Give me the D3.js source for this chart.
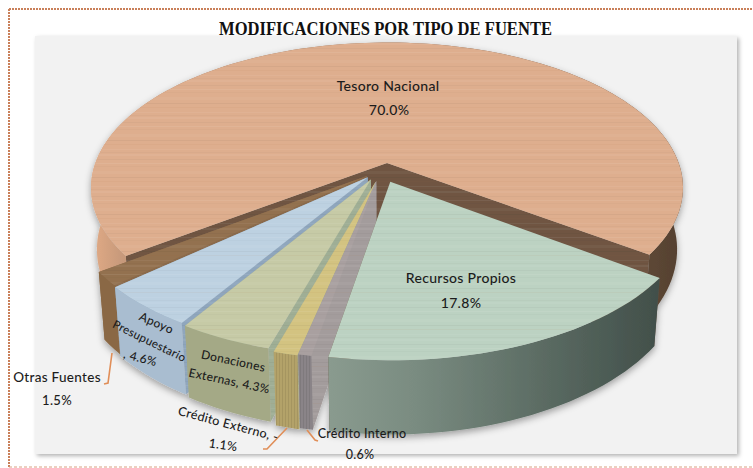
<!DOCTYPE html>
<html><head><meta charset="utf-8">
<script src="https://d3js.org/d3.v7.min.js"></script>
<style>html,body{margin:0;padding:0;background:#fff}svg{display:block}
.lab{font-family:Lato,sans-serif;font-weight:500;fill:#1c1c1c;text-anchor:middle;letter-spacing:.3px}</style>
</head><body><svg id="c" width="753" height="468"></svg>
<script>
// ---- data ----
const categories = ["Tesoro Nacional","Recursos Propios","Crédito Interno","Crédito Externo","Donaciones Externas","Apoyo Presupuestario","Otras Fuentes"];
const values = [70.0,17.8,0.6,1.1,4.3,4.6,1.5];
const chartTitle = "MODIFICACIONES POR TIPO DE FUENTE";
// ---- style ----
const topColors  = ["#deae8e","#bcd2c2","#a9a0a0","#d3c381","#c6caa6","#bdd1e1","#93714f"];
const sideColors = ["#a3765c","#7d8f83","#8a8488","#b3a269","#a4a986","#a9bdd0","#8a6844"];
const cutColors  = ["#6f5543","#6a5342","#a39c9c","#aab08e","#9fae95","#8fa6bd","#8a6a4b"];
// ground offset of each exploded slice, in disc radii
const explodeU = [0,.011,-.036,-.038,-.054,-.065,-.068];
const explodeV = [0,.130,.125,.130,.114,.100,.090];

const svg = d3.select("#c");
const defs = svg.append("defs");
const K = .17, H = 60, BOTTOM_SHRINK = .98;
const px = d3.scaleLinear().domain([0,1]).range([387,387+291.7]);
const py = d3.scaleLinear().domain([0,1]).range([163,163+141]);
const proj = (u,v,low)=>{
  const s = 1/(1-K*v);
  const x = px(u*s), y = py(v*s);
  return low ? [387+(x-387)*BOTTOM_SHRINK, y+H*s] : [x,y];
};
const deg = d=>d*Math.PI/180;
const pie = d3.pie().sort(null).startAngle(deg(233.64)).endAngle(deg(233.64+360));
const arcs = pie(values);
const line = d3.line();

// defs: stripes, shadows, gradients
const stripes = defs.append("pattern").attr("id","st").attr("patternUnits","userSpaceOnUse").attr("width",10).attr("height",37);
[[1,1,"#fff",.05],[4,1,"#000",.025],[6,2,"#fff",.05],[11,1,"#000",.03],[15,1,"#fff",.07],[18,1,"#000",.02],[23,3,"#fff",.04],[29,1,"#000",.04],[33,1,"#a06030",.06]]
 .forEach(r=>stripes.append("rect").attr("x",0).attr("width",10).attr("y",r[0]).attr("height",r[1]).attr("fill",r[2]).attr("opacity",r[3]));
const vst = defs.append("pattern").attr("id","vs").attr("patternUnits","userSpaceOnUse").attr("width",3).attr("height",10);
vst.append("rect").attr("width",1).attr("height",10).attr("fill","#000").attr("opacity",.08);
const sh = defs.append("filter").attr("id","panelSh").attr("x","-5%").attr("y","-5%").attr("width","110%").attr("height","110%");
sh.append("feDropShadow").attr("dx",2).attr("dy",2).attr("stdDeviation",2).attr("flood-color","#000").attr("flood-opacity",.3);
const sh2 = defs.append("filter").attr("id","pieSh").attr("x","-5%").attr("y","-5%").attr("width","110%").attr("height","115%");
sh2.append("feDropShadow").attr("dx",0).attr("dy",3).attr("stdDeviation",3.5).attr("flood-color","#000").attr("flood-opacity",.35);
const grad=(id,x1,x2,stops)=>{const g=defs.append("linearGradient").attr("id",id).attr("gradientUnits","userSpaceOnUse").attr("x1",x1).attr("x2",x2).attr("y1",0).attr("y2",0);
 stops.forEach(s=>g.append("stop").attr("offset",s[0]).attr("stop-color",s[1]));};
grad("w0",91,683,[[0,"#e2ab86"],[.05,"#c89a7b"],[.2,"#9f7b63"],[.85,"#6b5341"],[1,"#54402f"]]);
grad("w1",327,672,[[0,"#8a9b8f"],[.25,"#7a8c81"],[.7,"#55655d"],[1,"#3f4c47"]]);

// frame
svg.append("line").attr("x1",9).attr("y1",9).attr("x2",753).attr("y2",9).attr("stroke","#c9805a").attr("stroke-width",2).attr("stroke-dasharray","2 1");
svg.append("line").attr("x1",9).attr("y1",9).attr("x2",9).attr("y2",467).attr("stroke","#c9805a").attr("stroke-width",2).attr("stroke-dasharray","2 1");
svg.append("line").attr("x1",9).attr("y1",467).attr("x2",753).attr("y2",467).attr("stroke","#d9a080").attr("stroke-width",1).attr("stroke-dasharray","3 2");
svg.append("rect").attr("x",35).attr("y",36).attr("width",702).attr("height",418).attr("fill","#f2f2f2").attr("filter","url(#panelSh)");

svg.append("text").attr("x",385.5).attr("y",35).attr("text-anchor","middle")
  .attr("font-family","'Liberation Serif',serif").attr("font-weight",700).attr("font-size",18.5).attr("fill","#111")
  .attr("textLength",333).attr("lengthAdjust","spacingAndGlyphs").text(chartTitle);

// slices, back to front
const order = [0,6,5,4,3,2,1];
const g = svg.append("g").attr("filter","url(#pieSh)");
order.forEach(i=>{
  const a = arcs[i], du = explodeU[i], dv = explodeV[i];
  const steps = d3.range(0,1.0001,1/Math.max(6,Math.ceil((a.endAngle-a.startAngle)*30)));
  const pts = steps.map(t=>{const th=a.startAngle+t*(a.endAngle-a.startAngle);return [Math.sin(th)+du,-Math.cos(th)+dv];});
  const centre=[du,dv];
  const topPts = pts.map(p=>proj(p[0],p[1]));
  const lowPts = pts.map(p=>proj(p[0],p[1],true));
  const wallFill = i===0?"url(#w0)":i===1?"url(#w1)":sideColors[i];
  const face=(p)=>[proj(centre[0],centre[1]),proj(p[0],p[1]),proj(p[0],p[1],true),proj(centre[0],centre[1],true)];
  const sg = g.append("g");
  // cut faces
  [pts[0],pts[pts.length-1]].forEach(p=>{
    sg.append("path").attr("d",line(face(p))+"Z").attr("fill",cutColors[i]);
    sg.append("path").attr("d",line(face(p))+"Z").attr("fill","url(#st)");
  });
  // outer wall
  const wall = line(topPts.concat(lowPts.slice().reverse()))+"Z";
  sg.append("path").attr("d",wall).attr("fill",wallFill);
  if(i===2||i===3) sg.append("path").attr("d",wall).attr("fill","url(#vs)");
  // top
  const top = line([proj(centre[0],centre[1])].concat(topPts))+"Z";
  sg.append("path").attr("d",top).attr("fill",topColors[i]);
  sg.append("path").attr("d",top).attr("fill","url(#st)");
});

// leaders
[[[112,353],[108,383],[104,384]],[[287,428],[267,449],[263,449]],[[307,430],[315,440],[318,441]]].forEach(l=>
  svg.append("path").attr("d",line(l)).attr("fill","none").attr("stroke","#e08e58").attr("stroke-width",1.6));

// labels: text, x, y, rotation, size
const labels = [
 [categories[0],388,87,0,14],[d3.format(".1f")(values[0])+"%",389,111,0,14],
 [categories[1],461,279,0,14],[d3.format(".1f")(values[1])+"%",461,304,0,14],
 ["Apoyo",156,324,24,12],["Presupuestario",149,342,26,11.5],[", "+values[5].toFixed(1)+"%",140,359,14,12],
 ["Donaciones",233,362,12,12],["Externas, "+values[4].toFixed(1)+"%",229,382,12,12],
 [categories[6],57,379,0,13.5],[values[6].toFixed(1)+"%",57,402,0,13],
 [categories[3]+", -",228,425,15,12.5],[values[3].toFixed(1)+"%",223,446,8,12.5],
 ["Crédito Interno",362,435,0,12.5],[values[2].toFixed(1)+"%",360,456,0,12.5]
];
svg.selectAll("text.lab").data(labels).join("text").attr("class","lab")
  .attr("dominant-baseline","middle").attr("font-size",d=>d[4])
  .attr("transform",d=>`translate(${d[1]},${d[2]}) rotate(${d[3]})`).text(d=>d[0]);
</script></body></html>
